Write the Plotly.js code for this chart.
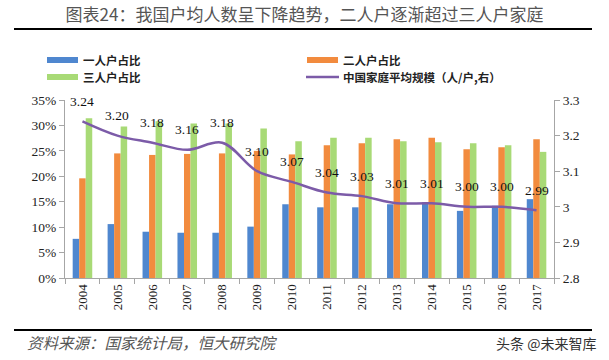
<!DOCTYPE html>
<html>
<head>
<meta charset="utf-8">
<script src="https://cdn.plot.ly/plotly-3.0.1.min.js"></script>
<style>
html,body{margin:0;padding:0;background:#fff;}
#chart{width:609px;height:360px;}
</style>
</head>
<body>
<div id="chart"></div>
<script>
const years = ['2004','2005','2006','2007','2008','2009','2010','2011','2012','2013','2014','2015','2016','2017'];
const onePerson = [7.7,10.6,9.1,8.9,8.9,10.1,14.5,13.9,13.9,14.5,14.9,13.2,14.2,15.5];
const twoPerson = [19.6,24.5,24.2,24.4,24.5,25.0,24.3,26.1,26.5,27.3,27.6,25.3,25.7,27.3];
const threePerson = [31.4,29.8,30.8,30.4,30.4,29.4,26.9,27.6,27.6,26.9,26.7,26.5,26.1,24.8];
const avgSize = [3.24,3.20,3.18,3.16,3.18,3.10,3.07,3.04,3.03,3.01,3.01,3.00,3.00,2.99];
const seriesNames = ['一人户占比','二人户占比','三人户占比','中国家庭平均规模（人/户,右）'];
const seriesColors = ['#4f87cf','#f28b3e','#a8da76','#7c5ba8'];
const leftTicks = [0,5,10,15,20,25,30,35];
const rightTicks = [2.8,2.9,3.0,3.1,3.2,3.3];

const serif = 'Liberation Serif, Times New Roman, serif';
const cjk = 'Noto Sans CJK SC, sans-serif';
const axisGray = '#a6a6a6';

const W = 609, H = 360, ML = 65, MR = 55, MT = 100, MB = 82;
const PW = W - ML - MR, PH = H - MT - MB;
const px = v => (v - ML) / PW;          // pixel x -> paper x
const py = v => (H - MB - v) / PH;      // pixel y -> paper y

const traces = [
  {type:'bar', name:seriesNames[0], x:years, y:onePerson, marker:{color:seriesColors[0], line:{width:0}}},
  {type:'bar', name:seriesNames[1], x:years, y:twoPerson, marker:{color:seriesColors[1], line:{width:0}}},
  {type:'bar', name:seriesNames[2], x:years, y:threePerson, marker:{color:seriesColors[2], line:{width:0}}},
  {type:'scatter', mode:'lines', name:seriesNames[3], x:years, y:avgSize, yaxis:'y2',
   line:{color:seriesColors[3], width:2.5, shape:'spline', smoothing:1}}
];

const annotations = years.map((yr,i)=>({
  x:i, y:avgSize[i], xref:'x', yref:'y2', text:avgSize[i].toFixed(2),
  showarrow:false, yshift:20, font:{family:serif, size:13.5, color:'#111'}
}));

// legend (two columns, two rows)
const legPos = [[47,60],[307,60],[47,77],[307,77]];
const shapes = [];
legPos.forEach((p,i)=>{
  if (i < 3) {
    shapes.push({type:'rect', xref:'paper', yref:'paper', x0:px(p[0]), x1:px(p[0]+31),
      y0:py(p[1]+3), y1:py(p[1]-3), line:{width:0}, fillcolor:seriesColors[i]});
  } else {
    shapes.push({type:'line', xref:'paper', yref:'paper', x0:px(p[0]-1), x1:px(p[0]+32),
      y0:py(p[1]), y1:py(p[1]), line:{width:2.5, color:seriesColors[i]}});
  }
  annotations.push({xref:'paper', yref:'paper', x:px(p[0]+35), y:py(p[1]), xanchor:'left', yanchor:'middle',
    text:'<b>'+seriesNames[i]+'</b>', showarrow:false, borderpad:0,
    font:{family:cjk, size:11.5, color:'#222'}});
});

shapes.push({type:'line', xref:'paper', yref:'paper', x0:px(14), x1:px(592), y0:py(29), y1:py(29),
  line:{color:'#000', width:2}});
shapes.push({type:'line', xref:'paper', yref:'paper', x0:px(14), x1:px(592), y0:py(330), y1:py(330),
  line:{color:'#000', width:2}});

annotations.push({
  xref:'paper', yref:'paper', x:px(25), y:py(342), xanchor:'left', yanchor:'middle',
  text:'<i>资料来源：国家统计局，恒大研究院</i>', showarrow:false,
  font:{family:cjk, size:15.5, color:'#555'}
});
annotations.push({
  xref:'paper', yref:'paper', x:px(598), y:py(343), xanchor:'right', yanchor:'middle',
  text:'头条 @未来智库', showarrow:false,
  font:{family:cjk, size:14, color:'#333'}
});

const layout = {
  width:W, height:H,
  margin:{l:ML, r:MR, t:MT, b:MB},
  paper_bgcolor:'#fff', plot_bgcolor:'#fff',
  title:{text:'图表24：我国户均人数呈下降趋势，二人户逐渐超过三人户家庭',
         x:0.5, xref:'container', y:1-15/H, yref:'container', yanchor:'middle',
         font:{family:cjk, size:17, color:'#555'}},
  barmode:'group', bargap:0.44, bargroupgap:0,
  showlegend:false,
  xaxis:{type:'category', range:[-0.5, years.length-0.5], showgrid:false, showline:true, linecolor:axisGray, linewidth:1,
         ticks:'outside', tickson:'boundaries', ticklen:5, tickcolor:axisGray,
         tickangle:-90, tickfont:{family:serif, size:13, color:'#222'}, zeroline:false},
  yaxis:{range:[0,35], tickvals:leftTicks, ticktext:leftTicks.map(v=>v+'%'),
         showgrid:false, showline:true, linecolor:axisGray, linewidth:1,
         ticks:'outside', ticklen:5, tickcolor:axisGray, zeroline:false,
         tickfont:{family:serif, size:13.5, color:'#222'}},
  yaxis2:{range:[2.8,3.3], overlaying:'y', side:'right', tickvals:rightTicks,
          ticktext:rightTicks.map(v=>String(Math.round(v*10)/10)),
          showgrid:false, showline:true, linecolor:axisGray, linewidth:1,
          ticks:'outside', ticklen:5, tickcolor:axisGray, zeroline:false,
          tickfont:{family:serif, size:13.5, color:'#222'}},
  shapes:shapes,
  annotations:annotations
};

Plotly.newPlot('chart', traces, layout, {displayModeBar:false, staticPlot:true});
</script>
</body>
</html>
